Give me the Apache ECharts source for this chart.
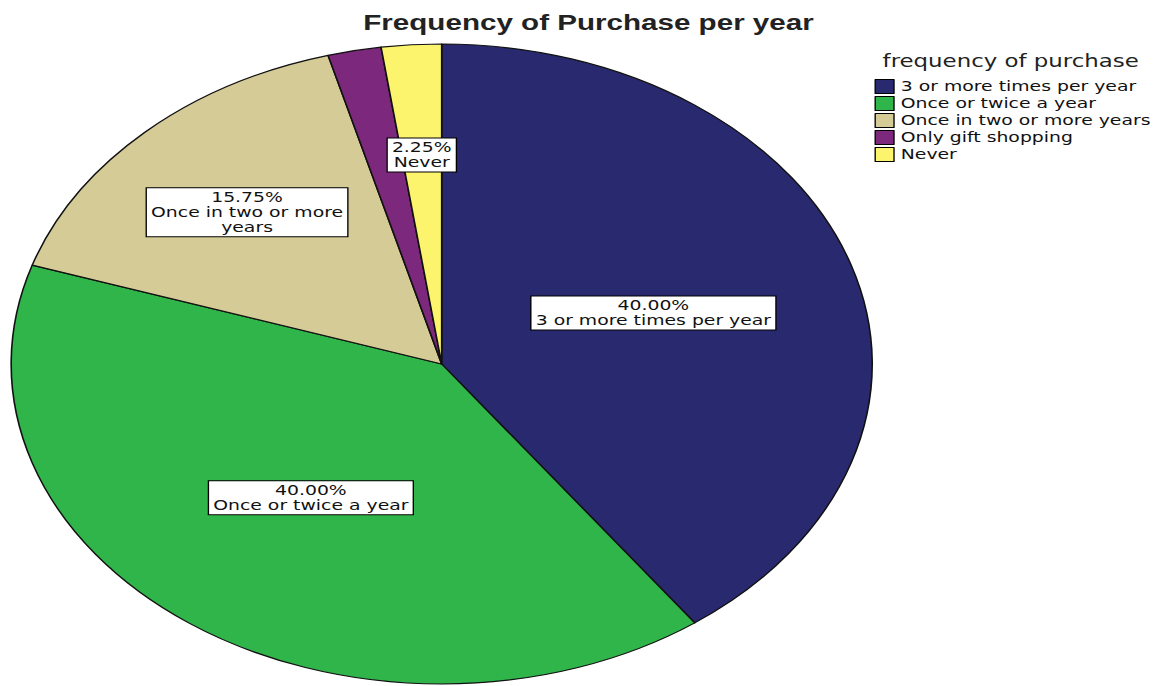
<!DOCTYPE html>
<html><head><meta charset="utf-8">
<script src="https://cdn.jsdelivr.net/npm/echarts@6/dist/echarts.min.js"></script>
<style>
html,body{margin:0;padding:0;background:#fff;overflow:hidden;}
#wrap{width:1153px;height:686px;overflow:hidden;position:relative;}
#chart{width:857px;height:686px;transform:scaleX(1.3454);transform-origin:0 0;}
</style></head><body>
<div id="wrap"><div id="chart"></div></div>
<script>
const categories = ['3 or more times per year', 'Once or twice a year', 'Once in two or more years', 'Only gift shopping', 'Never'];
const percentValues = [40.00, 40.00, 15.75, 2.00, 2.25];
const labelTexts = ['3 or more times per year', 'Once or twice a year', 'Once in two or more\nyears', '', 'Never'];
const sliceColors = ['#28296f', '#2fb54a', '#d5cb96', '#7c287c', '#fcf46c'];

const CX = 328.3, CY = 364, R = 320;
const total = percentValues.reduce((a, b) => a + b, 0);
function midAngle(i) {
  let before = 0;
  for (let k = 0; k < i; k++) before += percentValues[k];
  return (before + percentValues[i] / 2) / total * 2 * Math.PI;
}

const chart = echarts.init(document.getElementById('chart'), null, {renderer: 'svg'});
const data = categories.map((c, i) => ({
  name: c,
  value: percentValues[i],
  itemStyle: {color: sliceColors[i]},
  label: {show: labelTexts[i] !== ''}
}));

chart.setOption({
  animation: false,
  title: [
    {text: 'Frequency of Purchase per year', left: 270, top: 11, padding: 0,
     textStyle: {fontFamily: 'Liberation Sans', fontWeight: 'bold', fontSize: 22, color: '#222'}},
    {text: 'frequency of purchase', left: 656, top: 53, padding: 0,
     textStyle: {fontFamily: 'DejaVu Sans', fontWeight: 'normal', fontSize: 17, color: '#222'}}
  ],
  legend: {
    orient: 'vertical', left: 650, top: 79, padding: 0,
    itemWidth: 14, itemHeight: 14, itemGap: 2, icon: 'rect',
    itemStyle: {borderColor: '#000', borderWidth: 1},
    textStyle: {fontFamily: 'DejaVu Sans', fontSize: 14, lineHeight: 14, color: '#111'},
    data: categories
  },
  series: [{
    type: 'pie',
    center: [CX, CY],
    radius: R,
    startAngle: 90,
    clockwise: true,
    avoidLabelOverlap: false,
    itemStyle: {borderColor: '#111', borderWidth: 1.2},
    label: {
      position: 'inside',
      formatter: p => p.value.toFixed(2) + '%\n' + labelTexts[p.dataIndex],
      fontFamily: 'DejaVu Sans', fontSize: 14, lineHeight: 15, color: '#111',
      align: 'center', verticalAlign: 'middle',
      backgroundColor: '#fff', borderColor: '#000', borderWidth: 1,
      padding: [2, 3, 1, 3]
    },
    labelLine: {show: false},
    labelLayout: function (params) {
      const i = params.dataIndex;
      const a = midAngle(i);
      const f = percentValues[i] >= 20 ? 0.517 : 0.655;
      return {x: CX + Math.sin(a) * R * f, y: CY - Math.cos(a) * R * f, align: 'center', verticalAlign: 'middle'};
    },
    emphasis: {disabled: true},
    data: data
  }]
});
</script>
</body></html>
